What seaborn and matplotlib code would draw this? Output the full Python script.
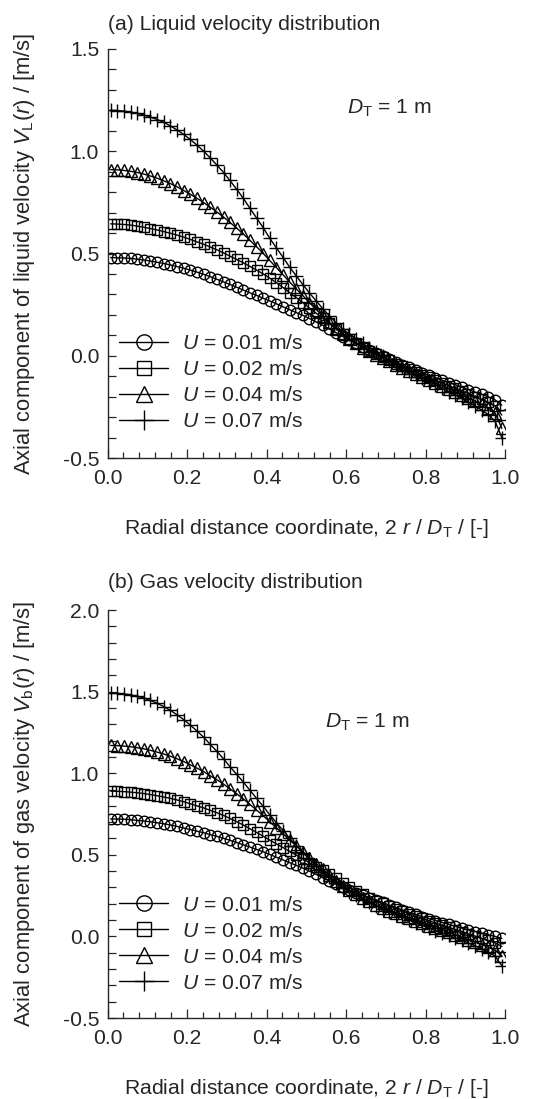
import numpy as np
import pandas as pd
import matplotlib
matplotlib.use("Agg")
import matplotlib.pyplot as plt
from matplotlib.ticker import MultipleLocator, FormatStrFormatter
import seaborn as sns

# ---------------- data ----------------
r = [0.008, 0.025, 0.042, 0.058, 0.075, 0.092, 0.108, 0.125, 0.142, 0.158,
     0.175, 0.192, 0.208, 0.225, 0.242, 0.258, 0.275, 0.292, 0.308, 0.325,
     0.342, 0.358, 0.375, 0.392, 0.408, 0.425, 0.442, 0.458, 0.475, 0.492,
     0.508, 0.525, 0.542, 0.558, 0.575, 0.592, 0.608, 0.625, 0.642, 0.658,
     0.675, 0.692, 0.708, 0.725, 0.742, 0.758, 0.775, 0.792, 0.808, 0.825,
     0.842, 0.858, 0.875, 0.892, 0.908, 0.925, 0.942, 0.958, 0.975, 0.992]

series_labels = ["0.01", "0.02", "0.04", "0.07"]

# (a) liquid velocity
vl_001 = [0.480, 0.479, 0.478, 0.476, 0.472, 0.468, 0.463, 0.457, 0.451, 0.444,
          0.436, 0.428, 0.419, 0.409, 0.398, 0.387, 0.374, 0.361, 0.349, 0.335,
          0.321, 0.308, 0.295, 0.281, 0.268, 0.254, 0.239, 0.225, 0.211, 0.197,
          0.182, 0.165, 0.148, 0.131, 0.113, 0.094, 0.077, 0.060, 0.043, 0.028,
          0.013, -0.003, -0.017, -0.030, -0.044, -0.057, -0.070, -0.083, -0.096, -0.108,
          -0.120, -0.131, -0.142, -0.154, -0.166, -0.178, -0.189, -0.201, -0.216, -0.242]
vl_002 = [0.645, 0.644, 0.642, 0.639, 0.634, 0.628, 0.622, 0.615, 0.607, 0.599,
          0.590, 0.580, 0.569, 0.557, 0.545, 0.532, 0.518, 0.503, 0.487, 0.471,
          0.454, 0.437, 0.419, 0.400, 0.380, 0.357, 0.333, 0.309, 0.284, 0.259,
          0.234, 0.208, 0.183, 0.158, 0.133, 0.108, 0.084, 0.063, 0.043, 0.025,
          0.008, -0.008, -0.023, -0.038, -0.052, -0.066, -0.080, -0.093, -0.106, -0.120,
          -0.133, -0.146, -0.160, -0.173, -0.186, -0.200, -0.213, -0.227, -0.245, -0.290]
vl_004 = [0.910, 0.909, 0.906, 0.902, 0.896, 0.888, 0.879, 0.868, 0.855, 0.842,
          0.826, 0.808, 0.790, 0.770, 0.749, 0.727, 0.703, 0.678, 0.652, 0.624,
          0.595, 0.565, 0.533, 0.500, 0.466, 0.431, 0.395, 0.361, 0.327, 0.293,
          0.259, 0.226, 0.193, 0.163, 0.133, 0.106, 0.081, 0.060, 0.040, 0.022,
          0.004, -0.012, -0.028, -0.044, -0.060, -0.075, -0.090, -0.104, -0.118, -0.132,
          -0.147, -0.161, -0.176, -0.191, -0.206, -0.222, -0.238, -0.256, -0.280, -0.355]
vl_007 = [1.200, 1.199, 1.196, 1.192, 1.185, 1.177, 1.167, 1.155, 1.141, 1.124,
          1.104, 1.082, 1.058, 1.030, 1.000, 0.968, 0.933, 0.896, 0.857, 0.814,
          0.769, 0.722, 0.674, 0.625, 0.575, 0.527, 0.480, 0.434, 0.390, 0.347,
          0.307, 0.268, 0.230, 0.195, 0.162, 0.131, 0.106, 0.082, 0.060, 0.039,
          0.018, -0.002, -0.020, -0.039, -0.057, -0.074, -0.091, -0.108, -0.125, -0.142,
          -0.159, -0.175, -0.192, -0.209, -0.227, -0.246, -0.266, -0.288, -0.320, -0.400]

# (b) gas velocity
vb_001 = [0.720, 0.719, 0.718, 0.715, 0.711, 0.707, 0.702, 0.696, 0.690, 0.683,
          0.674, 0.664, 0.655, 0.645, 0.635, 0.624, 0.613, 0.601, 0.589, 0.575,
          0.561, 0.548, 0.533, 0.518, 0.502, 0.485, 0.468, 0.452, 0.435, 0.418,
          0.400, 0.380, 0.360, 0.340, 0.320, 0.300, 0.283, 0.268, 0.252, 0.238,
          0.223, 0.208, 0.193, 0.178, 0.162, 0.149, 0.135, 0.121, 0.109, 0.097,
          0.085, 0.074, 0.062, 0.051, 0.040, 0.030, 0.020, 0.010, 0.000, -0.012]
vb_002 = [0.890, 0.889, 0.887, 0.884, 0.880, 0.875, 0.869, 0.862, 0.854, 0.846,
          0.836, 0.825, 0.813, 0.800, 0.787, 0.773, 0.758, 0.741, 0.723, 0.703,
          0.682, 0.660, 0.637, 0.614, 0.590, 0.567, 0.544, 0.521, 0.498, 0.475,
          0.451, 0.428, 0.405, 0.381, 0.355, 0.328, 0.301, 0.279, 0.257, 0.236,
          0.219, 0.202, 0.186, 0.170, 0.155, 0.140, 0.125, 0.110, 0.096, 0.082,
          0.069, 0.056, 0.042, 0.029, 0.015, 0.002, -0.012, -0.025, -0.040, -0.062]
vb_004 = [1.170, 1.169, 1.166, 1.162, 1.156, 1.149, 1.140, 1.129, 1.117, 1.104,
          1.088, 1.071, 1.052, 1.031, 1.009, 0.985, 0.960, 0.933, 0.904, 0.874,
          0.842, 0.809, 0.774, 0.739, 0.702, 0.665, 0.628, 0.591, 0.555, 0.518,
          0.482, 0.446, 0.411, 0.376, 0.342, 0.310, 0.283, 0.259, 0.236, 0.214,
          0.194, 0.175, 0.158, 0.141, 0.125, 0.110, 0.095, 0.080, 0.066, 0.053,
          0.040, 0.025, 0.010, -0.005, -0.020, -0.035, -0.050, -0.066, -0.085, -0.120]
vb_007 = [1.490, 1.489, 1.486, 1.480, 1.471, 1.460, 1.446, 1.428, 1.408, 1.385,
          1.358, 1.328, 1.295, 1.259, 1.220, 1.178, 1.134, 1.088, 1.040, 0.993,
          0.945, 0.896, 0.846, 0.796, 0.746, 0.697, 0.648, 0.601, 0.556, 0.513,
          0.472, 0.433, 0.396, 0.361, 0.327, 0.296, 0.275, 0.252, 0.229, 0.208,
          0.189, 0.170, 0.152, 0.135, 0.118, 0.102, 0.085, 0.068, 0.052, 0.036,
          0.021, 0.006, -0.010, -0.025, -0.041, -0.058, -0.075, -0.095, -0.120, -0.180]

# ---------------- style ----------------
sns.set_style("ticks")
plt.rcParams["font.family"] = ["Liberation Sans", "DejaVu Sans"]
plt.rcParams["mathtext.fontset"] = "custom"
plt.rcParams["mathtext.rm"] = "Liberation Sans"
plt.rcParams["mathtext.it"] = "Liberation Sans:italic"
plt.rcParams["mathtext.bf"] = "Liberation Sans:bold"
plt.rcParams["axes.unicode_minus"] = False

FS = 15.2
FS_Y = 15.8
markers = ["o", "s", "^", "+"]
msizes = [7.6, 7.0, 8.2, 9.8]

fig = plt.figure(figsize=(5.38, 10.99), dpi=100)
W = 538.0
H = 1099.0
ax_l, ax_r = 107.5, 505.0
axA = fig.add_axes([ax_l / W, 1 - 458 / H, (ax_r - ax_l) / W, 409 / H])
axB = fig.add_axes([ax_l / W, 1 - 1018 / H, (ax_r - ax_l) / W, 408 / H])

panels = [
    (axA, [vl_001, vl_002, vl_004, vl_007], (-0.5, 1.5),
     r"Axial component of liquid velocity $V_\mathrm{L}(r)$ / [m/s]",
     (0.602, 0.856), "(a) Liquid velocity distribution", 24, 0.066),
    (axB, [vb_001, vb_002, vb_004, vb_007], (-0.5, 2.0),
     r"Axial component of gas velocity $V_\mathrm{b}(r)$ / [m/s]",
     (0.546, 0.725), "(b) Gas velocity distribution", 583, 0.062),
]

for ax, sers, ylim, ylab, dtpos, title, title_y, leg_y in panels:
    for vals, lab, mk, ms in zip(sers, series_labels, markers, msizes):
        df = pd.DataFrame({"r": r, "v": vals})
        sns.lineplot(data=df, x="r", y="v", ax=ax, color="black",
                     linewidth=1.0, marker=mk, markersize=ms,
                     markerfacecolor="none", markeredgecolor="black",
                     markeredgewidth=1.0, label=r"$U$ = " + lab + " m/s",
                     sort=False, errorbar=None)
    ax.set_xlim(0.0, 1.0)
    ax.set_ylim(*ylim)
    ax.xaxis.set_major_locator(MultipleLocator(0.2))
    ax.xaxis.set_minor_locator(MultipleLocator(0.04))
    ax.yaxis.set_major_locator(MultipleLocator(0.5))
    ax.yaxis.set_minor_locator(MultipleLocator(0.1))
    ax.xaxis.set_major_formatter(FormatStrFormatter("%.1f"))
    ax.yaxis.set_major_formatter(FormatStrFormatter("%.1f"))
    ax.tick_params(axis="x", which="major", direction="in", length=6.5,
                   width=0.9, labelsize=FS, pad=8)
    ax.tick_params(axis="x", which="minor", direction="in", length=4.0,
                   width=0.9)
    ax.tick_params(axis="y", which="both", direction="in", length=5.5,
                   width=0.9, labelsize=FS, pad=6)
    for s in ["top", "right"]:
        ax.spines[s].set_visible(False)
    for s in ["left", "bottom"]:
        ax.spines[s].set_linewidth(1.0)
    ax.set_ylabel(ylab, fontsize=FS_Y)
    ax.yaxis.set_label_coords(-0.177, 0.5)
    ax.set_xlabel(r"Radial distance coordinate, 2 $r$ / $D_\mathrm{T}$ / [-]",
                  fontsize=FS)
    ax.xaxis.set_label_coords(0.5, -0.145)
    ax.text(dtpos[0], dtpos[1], r"$D_\mathrm{T}$ = 1 m", transform=ax.transAxes,
            fontsize=FS, va="center", ha="left")
    fig.text(ax_l / W, 1 - title_y / H, title, fontsize=FS, va="center",
             ha="left")
    leg = ax.legend(loc="lower left", bbox_to_anchor=(0.029, leg_y),
                    frameon=False, fontsize=FS, handlelength=2.32,
                    handletextpad=0.66, labelspacing=0.33, borderpad=0,
                    borderaxespad=0, numpoints=1, markerscale=1.45)

fig.savefig("out.png", dpi=100)
